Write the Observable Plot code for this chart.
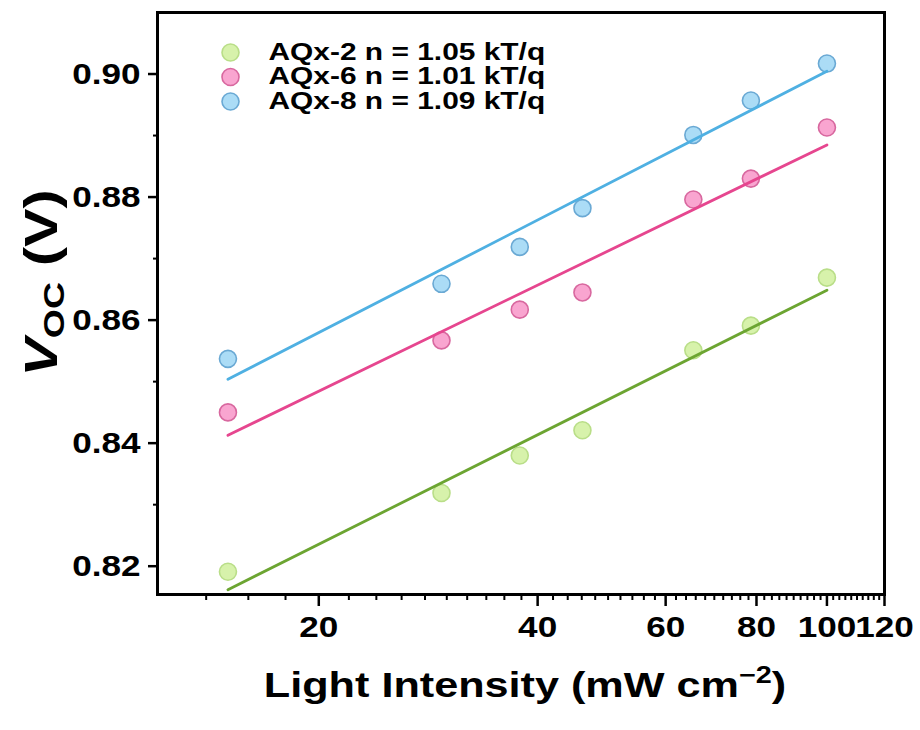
<!DOCTYPE html>
<html><head><meta charset="utf-8">
<script src="https://cdn.jsdelivr.net/npm/d3@7"></script>
<script src="https://cdn.jsdelivr.net/npm/@observablehq/plot@0.6"></script>
<style>body{margin:0;background:#fff} svg{display:block}</style>
</head><body><div id="chart"></div>
<script>
// Light intensity (mW cm^-2)
const intensity = [15, 29.5, 37.8, 46.1, 65.5, 78.6, 100];
const seriesNames = ["AQx-2", "AQx-6", "AQx-8"];
const legendLabels = ["AQx-2 n = 1.05 kT/q", "AQx-6 n = 1.01 kT/q", "AQx-8 n = 1.09 kT/q"];
// Voc (V)
const vocAQx2 = [0.8191, 0.8319, 0.8380, 0.8421, 0.8551, 0.8591, 0.8669];
const vocAQx6 = [0.8450, 0.8567, 0.8617, 0.8645, 0.8796, 0.8830, 0.8913];
const vocAQx8 = [0.8537, 0.8659, 0.8719, 0.8782, 0.8901, 0.8957, 0.9017];
const xTicks = [20, 40, 60, 80, 100, 120];
const yTicks = [0.82, 0.84, 0.86, 0.88, 0.90];
const yMinorTicks = [0.83, 0.85, 0.87, 0.89];

const fillColors = ["#d7f2ab", "#f9a5d0", "#abdcf6"];
const strokeColors = ["#b9de88", "#d8689f", "#6aa9d4"];
const lineColors = ["#6ca532", "#e6468f", "#4fb0e2"];

const vocs = [vocAQx2, vocAQx6, vocAQx8];
const xMinorTicks = d3.range(14, 120, 2).filter(v => !xTicks.includes(v));

function fitLine(ys) {
  const lx = intensity.map(Math.log);
  const mx = d3.mean(lx), my = d3.mean(ys);
  const b = d3.sum(lx, (v, i) => (v - mx) * (ys[i] - my)) / d3.sum(lx, v => (v - mx) ** 2);
  const a = my - b * mx;
  return d3.extent(intensity).map(x => ({x, y: a + b * Math.log(x)}));
}

const FONT = "'Liberation Sans', Arial, sans-serif";
const marks = [];
vocs.forEach((ys, i) => {
  marks.push(Plot.dot(intensity.map((x, j) => ({x, y: ys[j]})), {
    x: "x", y: "y", r: 8.5, fill: fillColors[i], stroke: strokeColors[i], strokeWidth: 1.6
  }));
});
vocs.forEach((ys, i) => {
  marks.push(Plot.line(fitLine(ys), {x: "x", y: "y", stroke: lineColors[i], strokeWidth: 2.8}));
});
legendLabels.forEach((lab, i) => {
  marks.push(Plot.dot([lab], {frameAnchor: "top-left", dx: 73, dy: 40 + i * 24.5, r: 8.5,
    fill: fillColors[i], stroke: strokeColors[i], strokeWidth: 1.6}));
  marks.push(Plot.text([lab], {frameAnchor: "top-left", dx: 111, dy: 40 + i * 24.5, text: d => d,
    textAnchor: "start", lineAnchor: "middle", fontSize: 23, fontWeight: "bold", fill: "black",
    className: "legend-text"}));
});

const chart = Plot.plot({
  width: 920, height: 730,
  marginLeft: 157, marginRight: 36, marginTop: 12, marginBottom: 136,
  x: {type: "log", domain: [12, 120]},
  y: {domain: [0.8154, 0.9100]},
  style: {fontFamily: FONT, background: "white", color: "black"},
  marks: [
    Plot.axisX({ticks: xMinorTicks, tickSize: 6, strokeWidth: 2, tickFormat: () => "", label: null}),
    Plot.axisX({ticks: xTicks, tickSize: 12, strokeWidth: 2.5, tickPadding: 9, tickFormat: d => String(d),
      fontSize: 30, fontWeight: "bold", label: null}),
    Plot.axisY({ticks: yMinorTicks, tickSize: 4, strokeWidth: 2, tickFormat: () => "", label: null}),
    Plot.axisY({ticks: yTicks, tickSize: 9, strokeWidth: 2.5, tickPadding: 8, tickFormat: d3.format(".2f"),
      fontSize: 30, fontWeight: "bold", label: null}),
    ...marks,
    Plot.frame({stroke: "black", strokeWidth: 3})
  ]
});
document.getElementById("chart").appendChild(chart);

// horizontal stretch of text as in reference
chart.querySelectorAll("text").forEach(t => {
  if (t.querySelector("tspan")) return;
  const L = t.getComputedTextLength();
  const isLegend = t.closest(".legend-text") !== null;
  const k = isLegend ? 1.3 : 1.17;
  if (L > 0) { t.setAttribute("textLength", L * k); t.setAttribute("lengthAdjust", "spacingAndGlyphs"); }
});

const svg = d3.select(chart);
const xl = svg.append("text").attr("transform", "translate(525,697) scale(1.2,1)")
  .attr("text-anchor", "middle").attr("font-family", FONT).attr("font-weight", "bold")
  .attr("font-size", 36).attr("fill", "black");
xl.append("tspan").text("Light Intensity (mW cm");
xl.append("tspan").attr("dy", -14).attr("font-size", 24).text("\u22122");
xl.append("tspan").attr("dy", 14).text(")");

const yl = svg.append("text").attr("transform", "translate(57,283) rotate(-90) scale(1.25,1)")
  .attr("text-anchor", "middle").attr("font-family", FONT).attr("font-weight", "bold")
  .attr("font-size", 46).attr("fill", "black");
yl.append("tspan").attr("font-style", "italic").text("V");
yl.append("tspan").attr("dy", 7).attr("font-size", 30).text("OC");
yl.append("tspan").attr("dy", -7).text(" (V)");
</script></body></html>
